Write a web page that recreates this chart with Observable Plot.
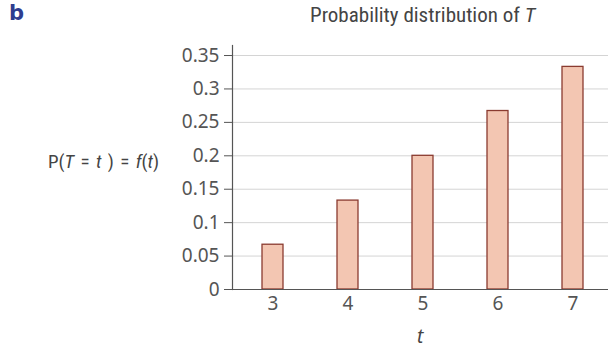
<!DOCTYPE html>
<html><head><meta charset="utf-8">
<script src="https://cdn.jsdelivr.net/npm/d3@7"></script>
<script src="https://cdn.jsdelivr.net/npm/@observablehq/plot@0.6"></script>
<style>
body{margin:0;background:#fff;}
#wrap{position:relative;width:608px;height:349px;overflow:hidden;}
#wrap svg{color:#555;background:#fff;}
.lbl{position:absolute;white-space:nowrap;color:#444;}
#panel{left:9px;top:1px;font-size:21px;font-weight:bold;color:#2e3d8f;font-family:"DejaVu Sans",sans-serif;}
#title{left:310px;top:3px;font-size:21px;font-family:"Liberation Sans Narrow","Roboto Condensed",Roboto,sans-serif;}
#ylab{left:48px;top:150px;font-size:19px;font-family:"Liberation Sans Narrow","Roboto Condensed",Roboto,sans-serif;word-spacing:2px;}
#xlab{left:417px;top:326px;font-size:19px;line-height:20px;font-style:italic;font-family:"Noto Sans","DejaVu Sans",sans-serif;}
</style></head>
<body><div id="wrap"></div>
<script>
const tValues = [3, 4, 5, 6, 7];
const probabilities = [0.067, 0.133, 0.2, 0.267, 0.333];
const yTicks = [0, 0.05, 0.1, 0.15, 0.2, 0.25, 0.3, 0.35];
const titleText = "Probability distribution of ";
const yLabelHtml = "P(<i>T</i> = <i>t</i> ) = <i>f</i>(<i>t</i>)";

const data = tValues.map((t, i) => ({t, p: probabilities[i]}));
const tickFont = "'Noto Sans', 'DejaVu Sans', sans-serif";

const chart = Plot.plot({
  width: 608, height: 349,
  marginLeft: 232, marginRight: 0, marginTop: 45, marginBottom: 60,
  x: {type: "band", domain: tValues, range: [232, 612], paddingInner: 0.72, paddingOuter: 0.377},
  y: {domain: [0, 0.365]},
  marks: [
    Plot.gridY(yTicks, {stroke: "#d4d4d4", strokeOpacity: 1}),
    Plot.barY(data, {x: "t", y: "p", fill: "#f3c6b2", stroke: "#8a3b30", strokeWidth: 1.3}),
    Plot.ruleY([0], {stroke: "#555", strokeWidth: 1.2}),
    Plot.frame({anchor: "left", stroke: "#555", strokeWidth: 1.2}),
    Plot.axisY(yTicks, {tickSize: 8, tickPadding: 5, label: null, tickFormat: d => String(d), fontSize: 19, fontFamily: tickFont}),
    Plot.axisX({tickSize: 0, tickPadding: 7, label: null, fontSize: 19, fontFamily: tickFont})
  ]
});
const wrap = document.getElementById("wrap");
wrap.appendChild(chart);
const add = (id, html) => { const d = document.createElement("div"); d.id = id; d.className = "lbl"; d.innerHTML = html; wrap.appendChild(d); };
add("panel", "b");
add("title", titleText + "<i>T</i>");
add("ylab", yLabelHtml);
add("xlab", "t");
</script></body></html>
